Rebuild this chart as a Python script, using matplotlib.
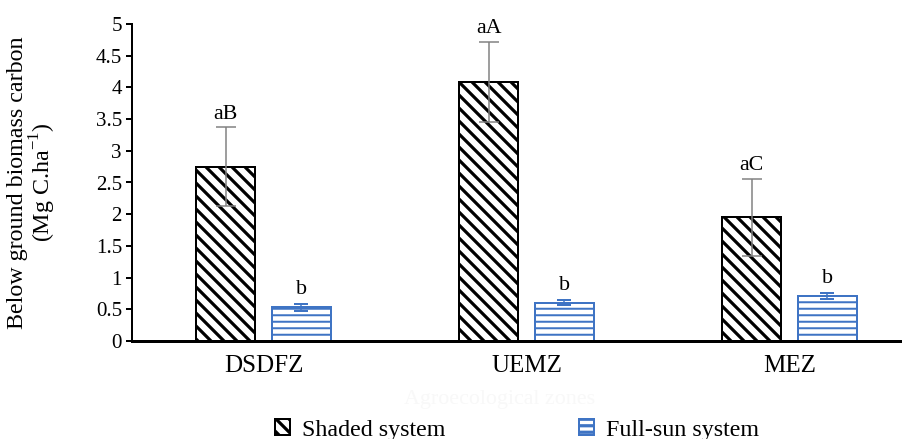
import matplotlib
matplotlib.use("Agg")
import matplotlib.pyplot as plt
import numpy as np

categories = ["DSDFZ", "UEMZ", "MEZ"]
shaded = [2.75, 4.09, 1.95]
shaded_err = [0.62, 0.63, 0.61]
fullsun = [0.53, 0.60, 0.71]
fullsun_err = [0.05, 0.04, 0.05]
shaded_labels = ["aB", "aA", "aC"]
fullsun_labels = ["b", "b", "b"]
yticks = [0, 0.5, 1, 1.5, 2, 2.5, 3, 3.5, 4, 4.5, 5]
ytick_labels = ["0", "0.5", "1", "1.5", "2", "2.5", "3", "3.5", "4", "4.5", "5"]

DPI = 78
def px(p):
    return p * 72.0 / DPI

plt.rcParams['font.family'] = ['Liberation Serif', 'DejaVu Serif']
plt.rcParams['mathtext.fontset'] = 'custom'
plt.rcParams['mathtext.rm'] = 'Liberation Serif'
plt.rcParams['hatch.linewidth'] = px(3.2)

fig = plt.figure(figsize=(902 / DPI, 439 / DPI), dpi=DPI)
ax = fig.add_axes([132 / 902, 1 - 341 / 439, 789 / 902, 317 / 439])

x = np.arange(len(categories))
w = 0.224
off = 0.1435
blue = "#3f74c4"

b1 = ax.bar(x - off, shaded, w, color="white", edgecolor="black", hatch="\\\\",
            linewidth=px(2.0), label="Shaded system", zorder=2)
b2 = ax.bar(x + off, fullsun, w, color="white", edgecolor=blue, hatch="--",
            linewidth=px(2.0), label="Full-sun system", zorder=2)
try:
    for p in b2:
        p.set_hatch_linewidth(px(2.0))
except Exception:
    pass

ax.errorbar(x - off, shaded, yerr=shaded_err, fmt="none", ecolor="#808080",
            elinewidth=px(1.5), capsize=px(10), capthick=px(1.5), zorder=3)
ax.errorbar(x + off, fullsun, yerr=fullsun_err, fmt="none", ecolor=blue,
            elinewidth=px(1.5), capsize=px(7), capthick=px(2), zorder=3)

fs_ann = px(22)
for i in range(len(categories)):
    ax.text(x[i] - off, shaded[i] + shaded_err[i] + 0.06, shaded_labels[i],
            ha="center", va="bottom", fontsize=fs_ann)
    ax.text(x[i] + off, fullsun[i] + fullsun_err[i] + 0.08, fullsun_labels[i],
            ha="center", va="bottom", fontsize=fs_ann)

ax.set_xlim(-0.5, 2.5)
ax.set_ylim(0, 5)
ax.set_yticks(yticks)
ax.set_yticklabels(ytick_labels, fontsize=px(21))
ax.set_xticks(x)
ax.set_xticklabels(categories, fontsize=px(25))
ax.tick_params(axis="x", length=0, pad=px(14))
ax.tick_params(axis="y", length=px(6), width=px(2), pad=px(4))
for s in ["top", "right"]:
    ax.spines[s].set_visible(False)
ax.spines["left"].set_linewidth(px(2))
ax.spines["bottom"].set_linewidth(px(3))

ax.set_ylabel("Below ground biomass carbon\n(Mg C.ha$^{\\mathregular{-1}}$)", fontsize=px(24),
              linespacing=1.0)
ax.yaxis.set_label_coords(-(132 - 58) / 789, 0.5)
ax.set_xlabel("Agroecological zones", fontsize=px(22), color="#f8f8f8")
ax.xaxis.set_label_coords((500 - 132) / 789, -(390 - 341) / 317)

fig.legend(handles=[b1, b2], loc="center", bbox_to_anchor=(517 / 902, 1 - 430 / 439),
           ncol=2, frameon=False, fontsize=px(24), handlelength=0.6, handleheight=0.6,
           columnspacing=5.6, handletextpad=0.5, borderpad=0.0)

fig.savefig("out.png", dpi=DPI)
